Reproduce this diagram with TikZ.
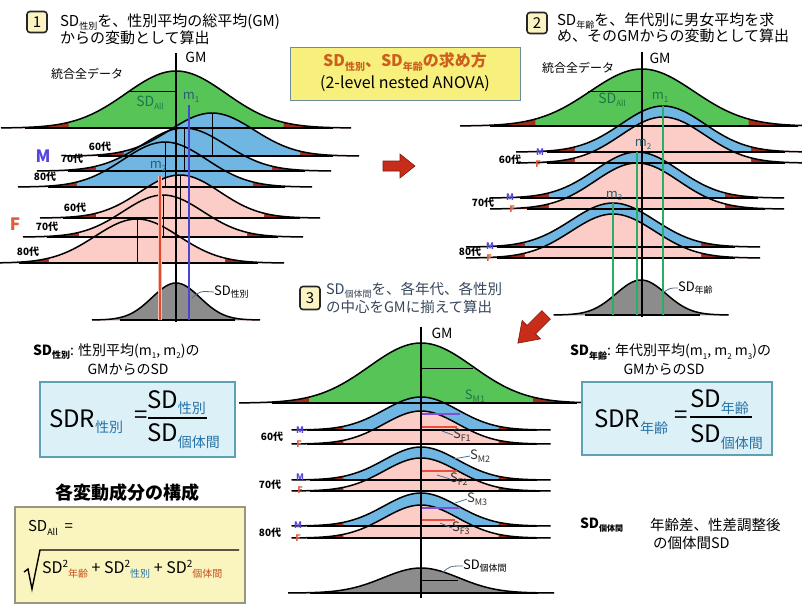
\documentclass[tikz,border=0pt]{standalone}
\usepackage{fontspec}
\setmainfont{Noto Sans CJK JP}
\usetikzlibrary{calc}

\definecolor{greenF}{RGB}{86,196,86}
\definecolor{blueF}{RGB}{112,182,226}
\definecolor{pinkF}{RGB}{251,205,198}
\definecolor{tailR}{RGB}{160,45,30}
\definecolor{grayF}{RGB}{140,140,140}
\definecolor{meanBlue}{RGB}{70,70,210}
\definecolor{meanRed}{RGB}{225,75,45}
\definecolor{meanRedGlow}{RGB}{250,190,180}
\definecolor{meanGreen}{RGB}{40,175,100}
\definecolor{sdGreen}{RGB}{30,120,70}
\definecolor{mTeal}{RGB}{40,95,110}
\definecolor{subTeal}{RGB}{40,115,165}
\definecolor{ageO}{RGB}{195,80,30}
\definecolor{orangeT}{RGB}{205,95,30}
\definecolor{mBlue}{RGB}{85,70,220}
\definecolor{fRed}{RGB}{225,90,60}
\definecolor{ttlY}{RGB}{248,240,125}
\definecolor{ttlEdge}{RGB}{110,140,160}
\definecolor{cyanBox}{RGB}{220,240,248}
\definecolor{cyanEdge}{RGB}{95,160,180}
\definecolor{compY}{RGB}{250,245,190}
\definecolor{compEdge}{RGB}{150,150,130}
\definecolor{numY}{RGB}{252,243,195}
\definecolor{leaderC}{RGB}{80,110,140}
\definecolor{arrowR}{RGB}{200,45,25}
\definecolor{arrowD}{RGB}{130,25,15}
\definecolor{purpleL}{RGB}{130,80,210}
\definecolor{redL}{RGB}{230,80,60}
\definecolor{ttl3}{RGB}{55,70,90}

\newcommand{\fs}[1]{\fontsize{#1}{#1}\selectfont}
\newcommand{\lo}[2]{\raisebox{-0.4ex}{\fs{#1}#2}}
\newcommand{\up}[2]{\raisebox{0.8ex}{\fs{#1}#2}}

% cx, y0, h, sigma, colour, k (coloured half-width in sigma)
\newcommand{\bellfill}[6]{%
  \pgfmathsetmacro{\bA}{#1-3.5*#4}%
  \pgfmathsetmacro{\bB}{#1+3.5*#4}%
  \pgfmathsetmacro{\bC}{#1-#6*#4}%
  \pgfmathsetmacro{\bD}{#1+#6*#4}%
  \fill[tailR] (\bA,#2) -- plot[domain=\bA:\bB,samples=71] (\x,{#2-#3*exp(-0.5*((\x-#1)/#4)*((\x-#1)/#4))}) -- (\bB,#2) -- cycle;
  \fill[#5] (\bC,#2) -- plot[domain=\bC:\bD,samples=61] (\x,{#2-#3*exp(-0.5*((\x-#1)/#4)*((\x-#1)/#4))}) -- (\bD,#2) -- cycle;
}
\newcommand{\bellline}[4]{%
  \pgfmathsetmacro{\bA}{#1-3.5*#4}%
  \pgfmathsetmacro{\bB}{#1+3.5*#4}%
  \draw[curve] plot[domain=\bA:\bB,samples=71,smooth] (\x,{#2-#3*exp(-0.5*((\x-#1)/#4)*((\x-#1)/#4))});
}
% cx, yM, yF, h, sigma, k
\newcommand{\pairfill}[6]{\bellfill{#1}{#2}{#4}{#5}{blueF}{#6}\bellfill{#1}{#3}{#4}{#5}{pinkF}{#6}}
\newcommand{\pairline}[5]{\bellline{#1}{#2}{#4}{#5}\bellline{#1}{#3}{#4}{#5}}

\begin{document}
\begin{tikzpicture}[x=1pt,y=-1pt,
  curve/.style={line width=1.5pt,black},
  base/.style={line width=1.6pt,black},
  meanl/.style={line width=1pt,black},
  gm/.style={line width=1.3pt,black},
  leader/.style={line width=0.8pt,leaderC},
  txt/.style={inner sep=0pt,outer sep=0pt},
  ttl/.style={txt,font=\fs{15}},
  age/.style={txt,font=\fs{10}\bfseries},
  msym/.style={txt,font=\fs{9}\bfseries,text=mBlue},
  fsym/.style={txt,font=\fs{9}\bfseries,text=fRed},
  numbox/.style={draw=black!85,line width=1.6pt,rounded corners=3pt,fill=numY,minimum width=20pt,minimum height=21pt,inner sep=0pt,font=\fs{15}},
  slbl/.style={txt,font=\fs{13},text=black!80},
]
\useasboundingbox (0,0) rectangle (802,606);
\fill[white] (0,0) rectangle (802,606);

%================ PANEL 1 =================
\bellfill{176}{128}{57}{50}{greenF}{2.15}
\bellfill{212}{156}{43}{42}{blueF}{2.1}
\bellfill{184}{171}{43}{42}{blueF}{2.1}
\bellfill{165}{187}{45}{42}{blueF}{2.1}
\bellfill{180}{218}{43}{40}{pinkF}{2.1}
\bellfill{163}{237}{42}{40}{pinkF}{2.1}
\bellfill{137}{263}{44}{42}{pinkF}{2.1}
\bellfill{176}{320}{37}{24}{grayF}{3.5}

\draw[base] (25,128) -- (333,128);
\draw[base] (98,156) -- (333,156);
\draw[base] (68,171) -- (305,171);
\draw[base] (48,187) -- (285,187);
\draw[base] (63,218) -- (300,218);
\draw[base] (47,237) -- (278,237);
\draw[base] (19,263) -- (258,263);
\draw[base] (120,320) -- (235,320);
\bellline{176}{128}{57}{50}
\bellline{212}{156}{43}{42}
\bellline{184}{171}{43}{42}
\bellline{165}{187}{45}{42}
\bellline{180}{218}{43}{40}
\bellline{163}{237}{42}{40}
\bellline{137}{263}{44}{42}
\bellline{176}{320}{37}{24}

\draw[meanl] (128,91) -- (176,91);
\draw[meanl] (212,113) -- (212,156);
\draw[meanl] (184,128) -- (184,171);
\draw[meanl] (165,142) -- (165,187);
\draw[meanl] (180,175) -- (180,218);
\draw[meanl] (163,195) -- (163,237);
\draw[meanl] (137,219) -- (137,263);
\draw[line width=4pt,meanRedGlow] (160,176) -- (160,320);
\draw[line width=1.8pt,meanRed] (160,176) -- (160,320);
\draw[line width=2pt,meanBlue] (189,105) -- (189,320);
\draw[gm] (176,53) -- (176,322);

\node[numbox] (n1) at (37,22) {1};
\node[ttl,anchor=west] (t1a) at (60,22) {SD\lo{9}{性別}を、性別平均の総平均(GM)};
\node[ttl,anchor=west] (t1b) at (60,38) {からの変動として算出};
\node[txt,font=\fs{14}] (gm1) at (196,57) {GM};
\node[txt,font=\fs{12}] (all1) at (87,74) {統合全データ};
\node[txt,font=\fs{14},text=sdGreen] (sdall1) at (150,103) {SD\lo{8}{All}};
\node[txt,font=\fs{13},text=mTeal] (m1a) at (191,97) {m\lo{8}{1}};
\node[txt,font=\fs{13},text=mTeal] (m2a) at (158,166) {m\lo{8}{2}};
\node[txt,font=\fs{17}\bfseries,text=mBlue] (M1) at (43,156) {M};
\node[txt,font=\fs{17}\bfseries,text=fRed] (F1) at (15,224) {F};
\node[age] (a1m60) at (100,147) {60代};
\node[age] (a1m70) at (72,159) {70代};
\node[age] (a1m80) at (45,177) {80代};
\node[age] (a1f60) at (75,208) {60代};
\node[age] (a1f70) at (47,227) {70代};
\node[age] (a1f80) at (28,252) {80代};
\node[txt,font=\fs{13},anchor=west] (sdsex) at (214,292) {SD\lo{9}{性別}};
\coordinate (sdsexP) at (192,298);
\draw[leader] (sdsexP) .. controls (200,291) .. (sdsex.west);

%================ PANEL 2 =================
\bellfill{642}{126}{57}{52}{greenF}{2.05}
\pairfill{663}{152}{163}{46}{42}{2.1}
\pairfill{637}{198}{209}{46}{42}{2.1}
\pairfill{613}{247}{258}{44}{42}{2.1}
\bellfill{641}{315}{35}{25}{grayF}{3.5}

\draw[base] (490,126) -- (798,126);
\draw[base] (547,152) -- (785,152);
\draw[base] (547,163) -- (785,163);
\draw[base] (520,198) -- (758,198);
\draw[base] (527,209) -- (765,209);
\draw[base] (497,247) -- (735,247);
\draw[base] (497,258) -- (735,258);
\draw[base] (585,315) -- (700,315);
\bellline{642}{126}{57}{52}
\pairline{663}{152}{163}{46}{42}
\pairline{637}{198}{209}{46}{42}
\pairline{613}{247}{258}{44}{42}
\bellline{641}{315}{35}{25}

\draw[meanl] (588,91) -- (642,91);
\draw[line width=2pt,meanGreen] (663,106) -- (663,315);
\draw[line width=2pt,meanGreen] (637,152) -- (637,315);
\draw[line width=2pt,meanGreen] (613,203) -- (613,315);
\draw[gm] (642,52) -- (642,317);

\node[numbox] (n2) at (537,23) {2};
\node[ttl,anchor=west] (t2a) at (557,21) {SD\lo{9}{年齢}を、年代別に男女平均を求};
\node[ttl,anchor=west] (t2b) at (557,36) {め、そのGMからの変動として算出};
\node[txt,font=\fs{14}] (gm2) at (660,58) {GM};
\node[txt,font=\fs{12}] (all2) at (578,68) {統合全データ};
\node[txt,font=\fs{14},text=sdGreen] (sdall2) at (612,100) {SD\lo{8}{All}};
\node[txt,font=\fs{13},text=sdGreen] (m1b) at (660,97) {m\lo{8}{1}};
\node[txt,font=\fs{13},text=mTeal] (m2b) at (643,144) {m\lo{8}{2}};
\node[txt,font=\fs{13},text=mTeal] (m3b) at (614,196) {m\lo{8}{3}};
\node[age] (a2a60) at (510,160) {60代};
\node[msym] (a2m60) at (540,152) {M};
\node[fsym] (a2f60) at (538,164) {F};
\node[age] (a2a70) at (483,203) {70代};
\node[msym] (a2m70) at (510,197) {M};
\node[fsym] (a2f70) at (512,209) {F};
\node[age] (a2a80) at (470,252) {80代};
\node[msym] (a2m80) at (490,246) {M};
\node[fsym] (a2f80) at (489,258) {F};
\node[txt,font=\fs{13},anchor=west] (sdage) at (678,288) {SD\lo{9}{年齢}};
\coordinate (sdageP) at (664,292);
\draw[leader] (sdageP) .. controls (670,288) .. (sdage.west);

%================ PANEL 3 =================
\bellfill{421}{403}{60}{52}{greenF}{2.15}
\pairfill{421}{430}{444}{33}{37}{2.1}
\pairfill{421}{480}{491}{33}{37}{2.1}
\pairfill{421}{526}{538}{33}{37}{2.1}
\bellfill{421}{593}{25}{38}{grayF}{3.5}

\draw[base] (272,403) -- (577,403);
\draw[base] (307,430) -- (537,430);
\draw[base] (307,444) -- (537,444);
\draw[base] (310,480) -- (537,480);
\draw[base] (310,491) -- (540,491);
\draw[base] (307,526) -- (537,526);
\draw[base] (307,538) -- (537,538);
\draw[base] (310,593) -- (538,593);
\bellline{421}{403}{60}{52}
\pairline{421}{430}{444}{33}{37}
\pairline{421}{480}{491}{33}{37}
\pairline{421}{526}{538}{33}{37}
\bellline{421}{593}{25}{38}

\draw[meanl] (421,368) -- (473,368);
\draw[line width=1.2pt,purpleL] (421,414) -- (460,414);
\draw[line width=1.2pt,redL] (421,427) -- (457,427);
\draw[line width=1.2pt,redL] (421,471) -- (457,471);
\draw[line width=1.2pt,purpleL] (421,508) -- (460,508);
\draw[line width=1.2pt,redL] (421,520) -- (455,520);
\draw[meanl] (421,580) -- (458,580);
\draw[gm] (421,327) -- (421,598);

\node[numbox,minimum height=23pt] (n3) at (310,298) {3};
\node[txt,font=\fs{14.5},text=ttl3,anchor=west] (t3a) at (326,290) {SD\lo{9}{個体間}を、各年代、各性別};
\node[txt,font=\fs{14.5},text=ttl3,anchor=west] (t3b) at (326,307) {の中心をGMに揃えて算出};
\node[txt,font=\fs{14}] (gm3) at (442,333) {GM};
\node[txt,font=\fs{13},text=sdGreen] (sM1) at (475,396) {S\lo{9}{M1}};
\node[slbl,anchor=west] (sF1) at (453,435) {S\lo{9}{F1}};
\node[slbl,anchor=west] (sM2) at (470,456) {S\lo{9}{M2}};
\node[slbl,anchor=west] (sF2) at (450,479) {S\lo{9}{F2}};
\node[slbl,anchor=west] (sM3) at (467,499) {S\lo{9}{M3}};
\node[slbl,anchor=west] (sF3) at (452,528) {S\lo{9}{F3}};
\coordinate (pF1) at (442,431);
\coordinate (pM2) at (453,459);
\coordinate (pF2) at (437,475);
\coordinate (pM3) at (455,503);
\coordinate (pF3) at (440,523);
\draw[leader] (pF1) -- (sF1.west);
\draw[leader] (pM2) -- (sM2.west);
\draw[leader] (pF2) -- (sF2.west);
\draw[leader] (pM3) -- (sM3.west);
\draw[leader] (pF3) -- (sF3.west);
\node[txt,font=\fs{13},anchor=west] (sdind3) at (463,566) {SD\lo{9}{個体間}};
\coordinate (pInd) at (442,573);
\draw[leader] (pInd) .. controls (450,566) .. (sdind3.west);
\node[age] (a3a60) at (272,437) {60代};
\node[msym] (a3m60) at (300,430) {M};
\node[fsym] (a3f60) at (299,444) {F};
\node[age] (a3a70) at (270,485) {70代};
\node[msym] (a3m70) at (300,477) {M};
\node[fsym] (a3f70) at (300,490) {F};
\node[age] (a3a80) at (270,533) {80代};
\node[msym] (a3m80) at (298,525) {M};
\node[fsym] (a3f80) at (298,538) {F};

%================ ARROWS =================
\begin{scope}[shift={(399,166)}]
  \fill[arrowR,draw=arrowD,line width=0.6pt] (-16,-5) -- (1,-5) -- (1,-12) -- (16,0) -- (1,12) -- (1,5) -- (-16,5) -- cycle;
\end{scope}
\begin{scope}[shift={(532,329)},rotate=-135]
  \fill[arrowR,draw=arrowD,line width=0.6pt] (-20,-6) -- (1,-6) -- (1,-13) -- (20,0) -- (1,13) -- (1,6) -- (-20,6) -- cycle;
\end{scope}

%================ TITLE BOX =================
\node[draw=ttlEdge,fill=ttlY,line width=0.8pt,minimum width=230pt,minimum height=53pt,inner sep=0pt] (tbox) at (405,73.5) {};
\node[txt,font=\fs{16}\bfseries,text=orangeT] (tbox1) at (405,62) {SD\lo{10}{性別}、SD\lo{10}{年齢}の求め方};
\node[txt,font=\fs{16}] (tbox2) at (405,84) {(2-level nested ANOVA)};

%================ LOWER LEFT =================
\node[txt,font=\fs{14},anchor=west] (sdsexh) at (33,352) {\textbf{SD\lo{9}{性別}}: 性別平均(m\lo{8}{1},\ m\lo{8}{2})の};
\node[txt,font=\fs{14}] (sdsexh2) at (128,369) {GMからのSD};
\node[draw=cyanEdge,fill=cyanBox,line width=1.2pt,minimum width=195pt,minimum height=75pt,inner sep=0pt] (sdrbox1) at (137.5,419.5) {};
\node[txt,font=\fs{24},anchor=west] (sdr1) at (49,422) {SDR\lo{14}{\textcolor{subTeal}{性別}}};
\node[txt,font=\fs{24}] (eq1) at (141,417) {=};
\node[txt,font=\fs{24},anchor=west] (num1) at (147,403) {SD\lo{14}{\textcolor{subTeal}{性別}}};
\draw[line width=1.3pt] (148,418) -- (207,418);
\node[txt,font=\fs{24},anchor=west] (den1) at (147,436) {SD\lo{14}{\textcolor{subTeal}{個体間}}};

\node[txt,font=\fs{18}\bfseries] (comph) at (127,493) {各変動成分の構成};
\node[draw=compEdge,fill=compY,line width=1.2pt,minimum width=230pt,minimum height=96pt,inner sep=0pt] (compbox) at (130,555) {};
\node[txt,font=\fs{15},anchor=west] (sdallc) at (28,528) {SD\lo{9}{All}\ \ =};
\draw[line width=1.4pt] (24,572) -- (28,569) -- (32,589) -- (40,550) -- (239,550);
\node[txt,font=\fs{16},anchor=west] (sumc) at (42,569) {SD\up{10}{2}\lo{10}{\textcolor{ageO}{年齢}} + SD\up{10}{2}\lo{10}{\textcolor{subTeal}{性別}} + SD\up{10}{2}\lo{10}{\textcolor{ageO}{個体間}}};

%================ LOWER RIGHT =================
\node[txt,font=\fs{14},anchor=west] (sdageh) at (570,352) {\textbf{SD\lo{9}{年齢}}: 年代別平均(m\lo{8}{1},\ m\lo{8}{2}\ m\lo{8}{3})の};
\node[txt,font=\fs{14}] (sdageh2) at (664,369) {GMからのSD};
\node[draw=cyanEdge,fill=cyanBox,line width=1.2pt,minimum width=190pt,minimum height=73pt,inner sep=0pt] (sdrbox2) at (677,418.5) {};
\node[txt,font=\fs{24},anchor=west] (sdr2) at (594,422) {SDR\lo{14}{\textcolor{subTeal}{年齢}}};
\node[txt,font=\fs{24}] (eq2) at (681,417) {=};
\node[txt,font=\fs{24},anchor=west] (num2) at (690,402) {SD\lo{14}{\textcolor{subTeal}{年齢}}};
\draw[line width=1.3pt] (690,417) -- (752,417);
\node[txt,font=\fs{24},anchor=west] (den2) at (690,437) {SD\lo{14}{\textcolor{subTeal}{個体間}}};

\node[txt,font=\fs{14}\bfseries,anchor=west] (sdind) at (580,525) {SD\lo{8}{個体間}};
\node[txt,font=\fs{14.5},anchor=west] (sdindt1) at (650,525) {年齢差、性差調整後};
\node[txt,font=\fs{14.5},anchor=west] (sdindt2) at (653,543) {の個体間SD};
\end{tikzpicture}
\end{document}
